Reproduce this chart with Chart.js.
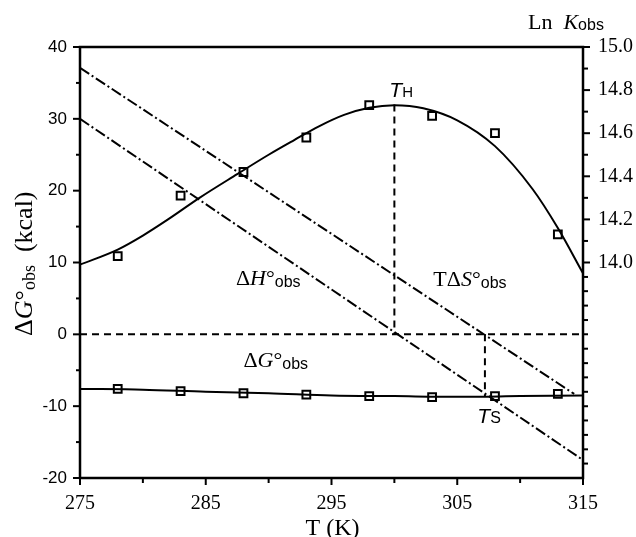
<!DOCTYPE html>
<html>
<head>
<meta charset="utf-8">
<script src="https://cdn.jsdelivr.net/npm/chart.js@4/dist/chart.umd.min.js"></script>
<style>
    html, body { margin: 0; padding: 0; background: #fff; }
    canvas { display: block; }
</style>
</head>
<body>
<canvas id="myChart" width="636" height="537"></canvas>
<script>
// measured points (T in K)
const pointTemps = [278, 283, 288, 293, 298, 303, 308, 313];
const lnKObs = [14.03, 14.31, 14.42, 14.58, 14.73, 14.68, 14.60, 14.13];
const dGObs = [-7.6, -7.9, -8.2, -8.4, -8.6, -8.75, -8.6, -8.3];

// fitted curves
const lnKFitTemps = [275, 278, 280, 282, 284.5, 287.5, 290, 292, 294, 296, 298, 300, 302.3, 305, 308, 311, 313, 315];
const lnKFit = [13.99, 14.06, 14.125, 14.2, 14.3, 14.41, 14.5, 14.567, 14.632, 14.685, 14.718, 14.73, 14.716, 14.66, 14.54, 14.34, 14.16, 13.95];
const dGFitTemps = [275, 280, 285, 290, 295, 300, 305, 310, 315];
const dGFit = [-7.6, -7.7, -8.0, -8.2, -8.5, -8.6, -8.7, -8.6, -8.5];

// straight lines (kcal)
const dHTemps = [275, 315];
const dH = [30, -17.5];
const tdSTemps = [275, 314.3];
const tdS = [37.1, -8.3];
const zeroTemps = [275, 315];
const zeroLine = [0, 0];
const tHTemps = [300, 300];
const tHLine = [32.0, 0];
const tSTemps = [307.2, 307.2];
const tSLine = [0, -8.7];

// ticks
const xTicks = [275, 285, 295, 305, 315];
const xMinor = [280, 290, 300, 310];
const yTicks = [-20, -10, 0, 10, 20, 30, 40];
const yMinor = [-15, -5, 5, 15, 25, 35];
const lnKTicks = [14.0, 14.2, 14.4, 14.6, 14.8, 15.0];
const lnKMinor = [14.1, 14.3, 14.5, 14.7, 14.9];
const lnKLowMinor = [13.933, 13.867, 13.8, 13.733, 13.667, 13.6, 13.533, 13.467, 13.4, 13.333, 13.267, 13.2, 13.133, 13.067];

const SERIF = '"Liberation Serif", "DejaVu Serif", serif';
const SANS = '"Liberation Sans", Arial, sans-serif';

const pts = (xs, ys) => xs.map((x, i) => ({ x: x, y: ys[i] }));

// draw a row of text pieces, each with its own font and baseline shift
const drawParts = (ctx, x, y, parts) => {
    let cx = x;
    parts.forEach(p => {
        ctx.font = p[1];
        ctx.fillText(p[0], cx, y + (p[2] || 0));
        cx += ctx.measureText(p[0]).width;
    });
}

const framePlugin = {
    id: 'frame',
    afterDatasetsDraw(chart) {
        const ctx = chart.ctx;
        const a = chart.chartArea;
        const x = chart.scales.x, y = chart.scales.y, y2 = chart.scales.y2;
        ctx.save();
        ctx.strokeStyle = '#000';
        ctx.fillStyle = '#000';
        ctx.lineWidth = 2.5;
        ctx.strokeRect(a.left, a.top, a.right - a.left, a.bottom - a.top);

        // tick marks
        ctx.lineWidth = 2;
        const tick = (x1, y1, x2, y2_) => {
            ctx.beginPath(); ctx.moveTo(x1, y1); ctx.lineTo(x2, y2_); ctx.stroke();
        };
        xTicks.forEach(v => { const p = x.getPixelForValue(v); tick(p, a.bottom, p, a.bottom + 7); });
        xMinor.forEach(v => { const p = x.getPixelForValue(v); tick(p, a.bottom, p, a.bottom + 5); });
        yTicks.forEach(v => { const p = y.getPixelForValue(v); tick(a.left - 7, p, a.left, p); });
        yMinor.forEach(v => { const p = y.getPixelForValue(v); tick(a.left - 4, p, a.left, p); });
        lnKTicks.forEach(v => { const p = y2.getPixelForValue(v); tick(a.right, p, a.right + 7, p); });
        lnKMinor.concat(lnKLowMinor).forEach(v => { const p = y2.getPixelForValue(v); tick(a.right, p, a.right + 5, p); });

        // labels on the plot
        ctx.textBaseline = 'alphabetic';
        ctx.textAlign = 'left';
        const px = v => x.getPixelForValue(v);
        const py = v => y.getPixelForValue(v);
        drawParts(ctx, px(299.6), py(33.1), [['T', 'italic 21px ' + SANS], ['H', '15px ' + SANS]]);
        drawParts(ctx, px(306.6), py(-12.4), [['T', 'italic 21px ' + SANS], ['S', '16px ' + SANS]]);
        drawParts(ctx, px(287.4), py(6.8), [['Δ', '22px ' + SERIF], ['H', 'italic 22px ' + SERIF], ['°', '22px ' + SERIF], ['obs', '16px ' + SANS, 2]]);
        drawParts(ctx, px(303.1), py(6.7), [['TΔ', '22px ' + SERIF], ['S', 'italic 22px ' + SERIF], ['°', '22px ' + SERIF], ['obs', '16px ' + SANS, 2]]);
        drawParts(ctx, px(288), py(-4.6), [['Δ', '22px ' + SERIF], ['G', 'italic 22px ' + SERIF], ['°', '22px ' + SERIF], ['obs', '16px ' + SANS, 2]]);

        // right axis title
        drawParts(ctx, 528, 29, [['Ln  ', '22px ' + SERIF], ['K', 'italic 22px ' + SERIF], ['obs', '16px ' + SANS, 1]]);

        // x axis title
        ctx.font = '24px ' + SERIF;
        ctx.textAlign = 'center';
        ctx.fillText('T (K)', (a.left + a.right) / 2 + 1, 535);

        // y axis title, rotated
        ctx.textAlign = 'left';
        ctx.translate(32, 336);
        ctx.rotate(-Math.PI / 2);
        drawParts(ctx, 0, 0, [['Δ', '26px ' + SERIF], ['G', 'italic 26px ' + SERIF], ['°', '26px ' + SERIF], ['obs', '18px ' + SERIF, 3], ['  (kcal)', '26px ' + SERIF]]);
        ctx.restore();
    }
};

const main = () => {
    const chart = document.getElementById('myChart');

    const lineStyle = {
        borderColor: '#000',
        borderWidth: 2,
        pointRadius: 0,
        fill: false,
    };
    const markerStyle = {
        showLine: false,
        pointStyle: 'rect',
        pointRadius: 5.5,
        pointBackgroundColor: '#fff',
        pointBorderColor: '#000',
        pointBorderWidth: 2,
    };
    const dashDot = [11, 3, 2, 3];
    const dashed = [7, 5];

    const data = {
        datasets: [
            { ...lineStyle, data: pts(lnKFitTemps, lnKFit), yAxisID: 'y2', cubicInterpolationMode: 'monotone' },
            { ...lineStyle, data: pts(dGFitTemps, dGFit), yAxisID: 'y', cubicInterpolationMode: 'monotone' },
            { ...lineStyle, data: pts(dHTemps, dH), yAxisID: 'y', borderDash: dashDot },
            { ...lineStyle, data: pts(tdSTemps, tdS), yAxisID: 'y', borderDash: dashDot },
            { ...lineStyle, data: pts(zeroTemps, zeroLine), yAxisID: 'y', borderDash: dashed },
            { ...lineStyle, data: pts(tHTemps, tHLine), yAxisID: 'y', borderDash: dashed },
            { ...lineStyle, data: pts(tSTemps, tSLine), yAxisID: 'y', borderDash: dashed },
            { ...markerStyle, data: pts(pointTemps, lnKObs), yAxisID: 'y2' },
            { ...markerStyle, data: pts(pointTemps, dGObs), yAxisID: 'y' },
        ]
    };

    const config = {
        type: 'line',
        data: data,
        options: {
            responsive: false,
            animation: false,
            devicePixelRatio: 1,
            layout: { padding: { top: 47, left: 0, right: 0, bottom: 0 } },
            scales: {
                x: {
                    type: 'linear',
                    min: 275,
                    max: 315,
                    afterBuildTicks: s => { s.ticks = xTicks.map(v => ({ value: v })); },
                    afterFit: s => { s.height = 59; },
                    grid: { display: false, drawTicks: false },
                    border: { display: false },
                    ticks: {
                        autoSkip: false,
                        maxRotation: 0,
                        padding: 14,
                        color: '#000',
                        font: { family: SERIF, size: 20 },
                    },
                },
                y: {
                    position: 'left',
                    min: -20,
                    max: 40,
                    afterBuildTicks: s => { s.ticks = yTicks.map(v => ({ value: v })); },
                    afterFit: s => { s.width = 80; },
                    grid: { display: false, drawTicks: false },
                    border: { display: false },
                    ticks: {
                        autoSkip: false,
                        padding: 13,
                        color: '#000',
                        font: { family: SANS, size: 17 },
                    },
                },
                y2: {
                    position: 'right',
                    min: 13,
                    max: 15,
                    afterBuildTicks: s => { s.ticks = lnKTicks.map(v => ({ value: v })); },
                    afterFit: s => { s.width = 53; },
                    grid: { display: false, drawTicks: false },
                    border: { display: false },
                    ticks: {
                        autoSkip: false,
                        padding: 15,
                        color: '#000',
                        font: { family: SERIF, size: 20 },
                        callback: v => v.toFixed(1),
                    },
                },
            },
            plugins: {
                legend: { display: false },
                tooltip: { enabled: false },
            },
        },
        plugins: [framePlugin],
    };

    return new Chart(chart, config);
}

main();
</script>
</body>
</html>
